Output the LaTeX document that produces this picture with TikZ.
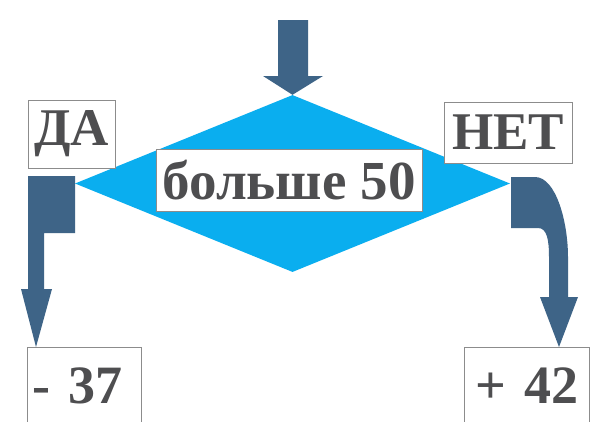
\documentclass[tikz,border=0pt]{standalone}
\usepackage{fontspec}
\setmainfont{Liberation Serif}
\usetikzlibrary{shapes.geometric}
\definecolor{diacyan}{RGB}{10,174,239}
\definecolor{arrowblue}{RGB}{62,100,135}
\definecolor{txtgray}{RGB}{78,78,80}
\definecolor{boxline}{RGB}{140,140,140}
\tikzset{
  labelbox/.style={draw=boxline, line width=0.8pt, fill=white, text=txtgray, font=\bfseries\fontsize{53}{58}\selectfont, inner sep=0pt},
  resultbox/.style={labelbox, anchor=north west, font=\bfseries\fontsize{54}{60}\selectfont, inner ysep=15pt, text height=41pt, text depth=40pt},
  blockarrow/.style={fill=arrowblue, draw=none},
}
\begin{document}
\begin{tikzpicture}[x=1pt,y=-1pt]
\useasboundingbox (0,0) rectangle (600,421);
\clip (0,0) rectangle (600,421);
\fill[white] (0,0) rectangle (600,421);
% diamond
\node[diamond, fill=diacyan, draw=none, minimum width=435pt, minimum height=177pt, inner sep=0pt] (cond) at (292.5,183.5) {};
% condition text box
\node[labelbox, font=\bfseries\fontsize{55}{60}\selectfont, minimum width=266pt, minimum height=62pt] (ctext) at (289,180) {больше 50};
% yes / no labels
\node[labelbox, minimum width=87pt, minimum height=68pt] (yes) at (71.5,134) {ДА};
\node[labelbox, minimum width=128pt, minimum height=61pt] (no) at (508,132.5) {НЕТ};
% result boxes
\node[resultbox, text width=104pt, align=left, inner xsep=5pt] (minus) at (27,347) {- 37};
\node[resultbox, text width=117pt, align=right, inner xsep=4pt] (plus) at (464,347) {+ 42\hspace*{7pt}};
% top arrow into diamond
\fill[blockarrow] (278,20) -- (308,20) -- (308,76) -- (323,76) -- (cond.north) -- (263,76) -- (278,76) -- cycle;
% left (yes) arrow
\fill[blockarrow] (28,176) -- (75,176) -- (75,233) -- (44,233) -- (44,289) -- (52,289) -- (36,347) -- (21,289) -- (28,289) -- cycle;
% right (no) arrow
\fill[blockarrow] (511,177) -- (535,177) .. controls (556,177) and (568,222) .. (568,257) -- (568,297) -- (578,297) -- (559,347) -- (540,297) -- (549,297) -- (549,257) .. controls (549,240) and (547,228) .. (538,228) -- (511,228) -- cycle;
\end{tikzpicture}
\end{document}
